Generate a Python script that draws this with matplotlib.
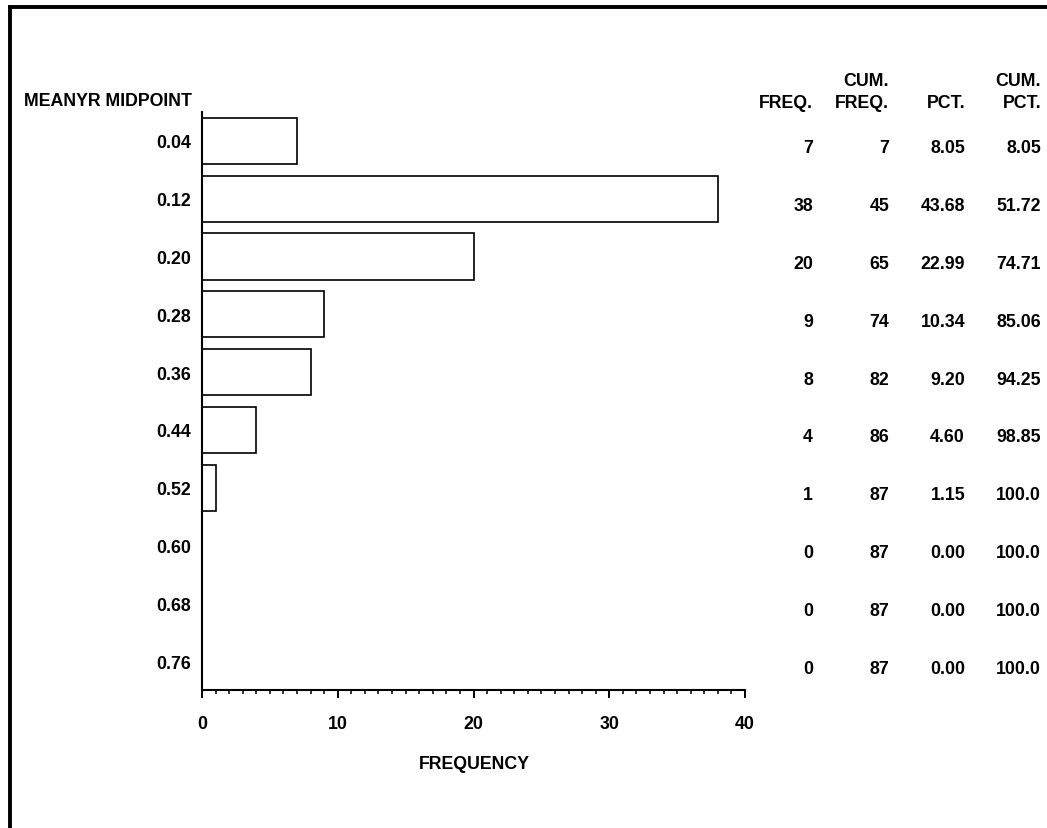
import matplotlib
matplotlib.use("Agg")
import matplotlib.pyplot as plt
from matplotlib.lines import Line2D
from matplotlib.ticker import MultipleLocator
from matplotlib.transforms import blended_transform_factory

midpoints = ["0.04", "0.12", "0.20", "0.28", "0.36", "0.44", "0.52", "0.60", "0.68", "0.76"]
freq = [7, 38, 20, 9, 8, 4, 1, 0, 0, 0]
cum_freq = [7, 45, 65, 74, 82, 86, 87, 87, 87, 87]
pct = [8.05, 43.68, 22.99, 10.34, 9.20, 4.60, 1.15, 0.00, 0.00, 0.00]
cum_pct = [8.05, 51.72, 74.71, 85.06, 94.25, 98.85, 100.0, 100.0, 100.0, 100.0]

plt.rcParams['font.family'] = ['Liberation Sans', 'DejaVu Sans']
plt.rcParams['font.weight'] = 'bold'
FS = 12.8


def fmt_pct(v):
    return f"{v:.1f}" if v >= 100 else f"{v:.2f}"


def main():
    fig = plt.figure(figsize=(10.47, 8.29), dpi=100)
    ax = fig.add_axes([202 / 1047, 1 - 691 / 829, 543 / 1047, 578 / 829])

    pos = list(range(len(midpoints)))
    ax.barh(pos, freq, height=0.8, color='white', edgecolor='black', linewidth=1.2)

    ax.set_ylim(len(midpoints) - 0.5, -0.5)
    ax.set_xlim(0, 40)
    ax.set_yticks(pos)
    ax.set_yticklabels(midpoints, fontsize=FS)
    ax.tick_params(axis='y', length=0, pad=8)
    ax.xaxis.set_major_locator(MultipleLocator(10))
    ax.xaxis.set_minor_locator(MultipleLocator(1))
    ax.tick_params(axis='x', which='major', length=6, width=1.4, pad=12, labelsize=FS)
    ax.tick_params(axis='x', which='minor', length=3, width=1.1)
    for s in ['top', 'right']:
        ax.spines[s].set_visible(False)
    for s in ['left', 'bottom']:
        ax.spines[s].set_linewidth(1.5)

    fig.text(474 / 1047, 1 - 765 / 829, "FREQUENCY", ha='center', va='center', fontsize=FS)
    fig.text(192 / 1047, 1 - 102 / 829, "MEANYR MIDPOINT", ha='right', va='center', fontsize=FS)

    # frequency table on the right
    cols = [813, 889, 965, 1041]
    head1 = ["", "CUM.", "", "CUM."]
    head2 = ["FREQ.", "FREQ.", "PCT.", "PCT."]
    for x, h1, h2 in zip(cols, head1, head2):
        fig.text(x / 1047, 1 - 82 / 829, h1, ha='right', va='center', fontsize=FS)
        fig.text(x / 1047, 1 - 103 / 829, h2, ha='right', va='center', fontsize=FS)

    trans = blended_transform_factory(fig.transFigure, ax.transData)
    for i in pos:
        vals = [str(freq[i]), str(cum_freq[i]), fmt_pct(pct[i]), fmt_pct(cum_pct[i])]
        for x, v in zip(cols, vals):
            ax.text(x / 1047, i + 0.12, v, ha='right', va='center', fontsize=FS,
                    transform=trans, clip_on=False)

    # page frame (top and left edges only)
    fig.add_artist(Line2D([10 / 1047, 1], [1 - 8 / 829, 1 - 8 / 829], color='black',
                          linewidth=2.8, transform=fig.transFigure, solid_capstyle='projecting'))
    fig.add_artist(Line2D([10 / 1047, 10 / 1047], [0, 1 - 8 / 829], color='black',
                          linewidth=2.8, transform=fig.transFigure, solid_capstyle='projecting'))

    fig.savefig("out.png", dpi=100)


if __name__ == "__main__":
    main()
